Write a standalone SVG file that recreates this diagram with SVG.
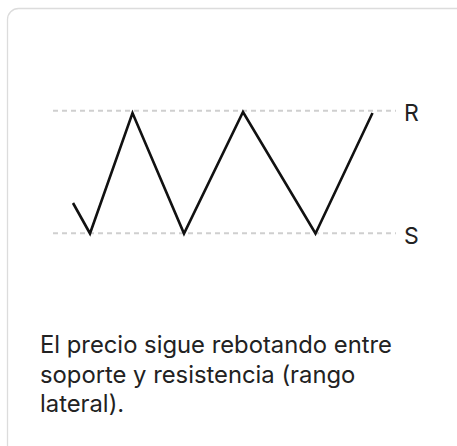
<svg xmlns="http://www.w3.org/2000/svg" width="457" height="446" viewBox="0 0 457 446">
<style>
.card{fill:#fff;stroke:#dcdcdc;stroke-width:1.3}
.guide{stroke:#cfcfcf;stroke-width:2;stroke-dasharray:5 4;fill:none}
.price{fill:none;stroke:#111;stroke-width:2.6;stroke-linejoin:miter;stroke-linecap:butt}
.lbl{font-family:'Inter','Inter Variable',sans-serif;font-size:23px;fill:#222}
.cap{font-family:'Inter','Inter Variable',sans-serif;font-size:23.8px;fill:#222}
</style>
<rect width="457" height="446" fill="#fff"/>
<rect class="card" x="7.5" y="8.5" width="470" height="460" rx="11"/>
<g id="connectors">
<line class="guide" x1="53" y1="110.7" x2="396" y2="110.7"/>
<line class="guide" x1="53" y1="233.3" x2="396" y2="233.3"/>
</g>
<g id="price">
<polyline class="price" points="73,203 90,233.5 132.5,113 184,233.5 243,112 315.5,233.5 372.5,113"/>
</g>
<g id="label-R"><text class="lbl" x="404" y="120.5">R</text></g>
<g id="label-S"><text class="lbl" x="404" y="243.5">S</text></g>
<g id="caption">
<text class="cap" x="40" y="353">El precio sigue rebotando entre</text>
<text class="cap" x="40" y="382.5">soporte y resistencia (rango</text>
<text class="cap" x="40" y="412">lateral).</text>
</g>
</svg>
